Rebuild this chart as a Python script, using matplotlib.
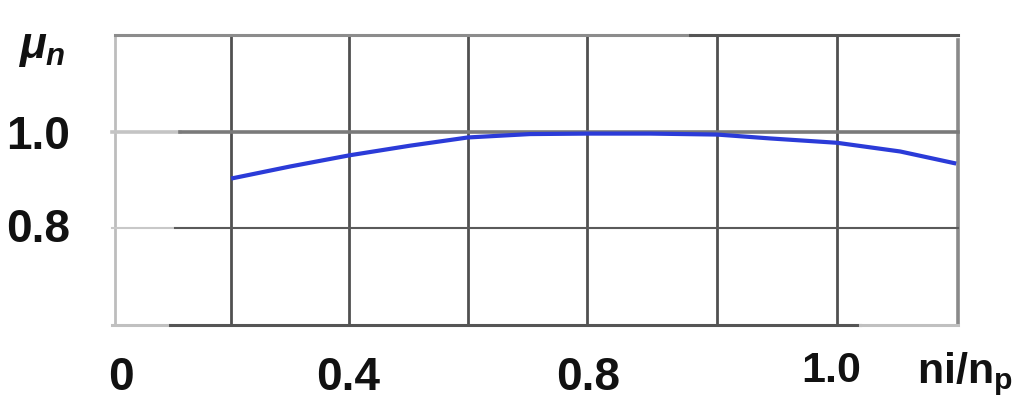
import matplotlib
matplotlib.use("Agg")
import matplotlib.pyplot as plt
from matplotlib.transforms import blended_transform_factory

plt.rcParams['font.family'] = ['Liberation Sans', 'DejaVu Sans']
plt.rcParams['mathtext.fontset'] = 'custom'
plt.rcParams['mathtext.rm'] = 'Liberation Sans:bold'
plt.rcParams['mathtext.it'] = 'Liberation Sans:italic:bold'
plt.rcParams['mathtext.bf'] = 'Liberation Sans:bold'

# ---- data (axis units along x; efficiency along y) ----
curve_x = [0.193, 0.291, 0.389, 0.490, 0.586, 0.689, 0.784, 0.889, 1.000, 1.088, 1.199, 1.304, 1.397]
curve_y = [0.903, 0.928, 0.951, 0.971, 0.988, 0.995, 0.996, 0.996, 0.994, 0.986, 0.977, 0.959, 0.934]

grid_x = [0.193, 0.389, 0.586, 0.784, 1.000, 1.199]
x_tick_pos = [0.01, 0.387, 0.786, 1.189]
x_tick_labels = ['0', '0.4', '0.8', '1.0']
y_tick_pos = [0.989, 0.796]
y_tick_labels = ['1.0', '0.8']

fig = plt.figure(figsize=(10.24, 4.15), dpi=100)
ax = fig.add_axes([115/1024, 1 - 325/415, 843/1024, 290/415])
ax.set_xlim(0, 1.4)
ax.set_ylim(0.6, 1.2)
for s in ax.spines.values():
    s.set_visible(False)
ax.set_xticks([])
ax.set_yticks([])

# vertical grid
for gx in grid_x:
    ax.plot([gx, gx], [0.6, 1.2], color='#505050', lw=2.0, clip_on=False, zorder=1)
ax.plot([0, 0], [0.6, 1.2], color='#bdbdbd', lw=2.0, clip_on=False, zorder=1)
ax.plot([1.4, 1.4], [0.6, 1.19], color='#8a8a8a', lw=2.6, clip_on=False, zorder=1)

# horizontal grid
ax.plot([0, 0.955], [1.2, 1.2], color='#8c8c8c', lw=2.2, clip_on=False, zorder=1)
ax.plot([0.955, 1.4], [1.2, 1.2], color='#555555', lw=2.2, clip_on=False, zorder=1)
ax.plot([-0.005, 0.108], [1.0, 1.0], color='#c4c4c4', lw=2.6, clip_on=False, zorder=1)
ax.plot([0.108, 1.4], [1.0, 1.0], color='#7a7a7a', lw=2.6, clip_on=False, zorder=1)
ax.plot([-0.005, 0.10], [0.8, 0.8], color='#c8c8c8', lw=1.5, clip_on=False, zorder=1)
ax.plot([0.10, 1.4], [0.8, 0.8], color='#5a5a5a', lw=1.5, clip_on=False, zorder=1)
ax.plot([-0.005, 0.091], [0.6, 0.6], color='#c0c0c0', lw=2.2, clip_on=False, zorder=1)
ax.plot([0.091, 1.237], [0.6, 0.6], color='#555555', lw=2.2, clip_on=False, zorder=1)
ax.plot([1.237, 1.4], [0.6, 0.6], color='#c0c0c0', lw=2.2, clip_on=False, zorder=1)

# curve
ax.plot(curve_x, curve_y, color='#2b3bd8', lw=3.0, solid_capstyle='butt', zorder=3, clip_on=False)

# tick labels
tx = blended_transform_factory(ax.transData, ax.transAxes)
for pos, lab in zip(x_tick_pos, x_tick_labels):
    if lab == '1.0':
        ax.text(pos, -0.158, lab, transform=tx, ha='center', va='center',
                fontsize=31, fontweight='bold', color='#111111')
    else:
        ax.text(pos, -0.183, lab, transform=tx, ha='center', va='center',
                fontsize=33, fontweight='bold', color='#111111')
ty = blended_transform_factory(ax.transAxes, ax.transData)
for pos, lab in zip(y_tick_pos, y_tick_labels):
    ax.text(-0.053, pos, lab, transform=ty, ha='right', va='center',
            fontsize=33, fontweight='bold', color='#111111')

# axis labels
ax.text(917/1024, 1 - 383/415, r'$\mathrm{ni/n}_{\mathrm{p}}$', transform=fig.transFigure,
        ha='left', va='baseline', fontsize=31, color='#111111')
ax.text(18/1024, 1 - 58/415, r'$\mu_{n}$', transform=fig.transFigure,
        ha='left', va='baseline', fontsize=32, color='#111111')

fig.savefig('out.png', dpi=100)
